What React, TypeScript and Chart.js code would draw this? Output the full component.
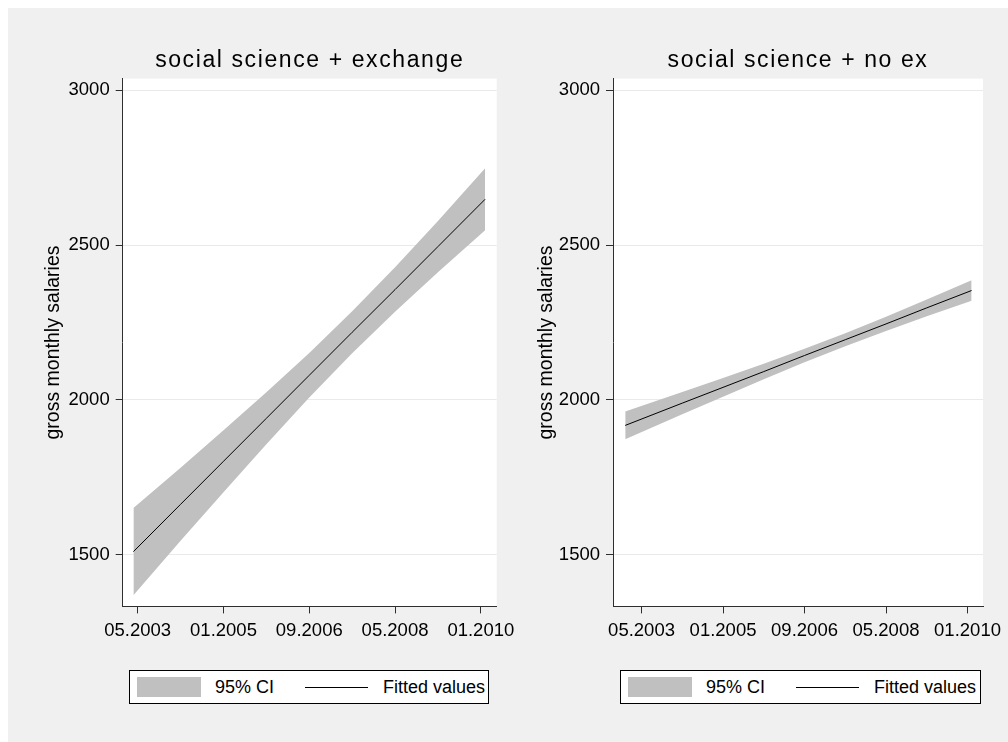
import { useEffect, useRef } from 'react';
import { Chart, registerables } from 'chart.js';

Chart.register(...registerables);

// x values are months counted from 05.2003
const tickValues = [0, 20, 40, 60, 80];
const tickLabels = ['05.2003', '01.2005', '09.2006', '05.2008', '01.2010'];
const yTicks = [1500, 2000, 2500, 3000];

// social science + exchange
const exMonths = [-1, 10, 20, 30, 40, 50, 60, 70, 81];
const exFit = [1509, 1662, 1801, 1940, 2079, 2218, 2356, 2495, 2648];
const exUpper = [1650, 1780, 1901, 2024, 2151, 2286, 2428, 2578, 2748];
const exLower = [1368, 1544, 1701, 1856, 2007, 2150, 2284, 2412, 2548];

// social science + no ex
const noMonths = [-4, 10, 20, 30, 40, 50, 60, 70, 81];
const noFit = [1917, 1989, 2040, 2091, 2143, 2194, 2245, 2297, 2353];
const noUpper = [1962, 2025, 2070, 2116, 2165, 2215, 2268, 2324, 2386];
const noLower = [1872, 1953, 2010, 2066, 2121, 2173, 2222, 2270, 2320];

const FONT = "'Liberation Sans', Arial, sans-serif";
const BAND = '#c0c0c0';
const AXIS = '#2e2e2e';
const GRID = '#eaeaea';
const BG = '#f0f0f0';

interface PanelCfg {
  title: string;
  months: number[];
  fit: number[];
  upper: number[];
  lower: number[];
  xMin: number;
  xMax: number;
  yWidth: number;
  padRight: number;
  yTitlePad: number;
}

function makePanel(canvas: HTMLCanvasElement, cfg: PanelCfg) {
  const pts = (ys: number[]) => cfg.months.map((m, i) => ({ x: m, y: ys[i] }));
  const plotBg = {
    id: 'plotBg',
    beforeDraw(chart: any) {
      const { ctx, chartArea: a } = chart;
      ctx.save();
      ctx.fillStyle = '#ffffff';
      ctx.fillRect(a.left, a.top, a.right - a.left, a.bottom - a.top);
      ctx.restore();
    },
  };
  const titleSpacing = {
    id: 'titleSpacing',
    afterInit(chart: any) {
      const tb = chart.titleBlock;
      if (!tb) return;
      const orig = tb.draw.bind(tb);
      tb.draw = (...args: any[]) => {
        const ctx = chart.ctx;
        ctx.save();
        ctx.letterSpacing = '1.6px';
        orig(...args);
        ctx.restore();
      };
    },
  };
  return new Chart(canvas, {
    type: 'line',
    data: {
      datasets: [
        {
          label: 'Fitted values',
          data: pts(cfg.fit),
          borderColor: '#000000',
          borderWidth: 1,
          pointRadius: 0,
          fill: false,
          tension: 0,
        },
        {
          label: '95% CI',
          data: pts(cfg.upper),
          borderColor: 'rgba(0,0,0,0)',
          borderWidth: 0,
          backgroundColor: BAND,
          pointRadius: 0,
          fill: '+1',
          tension: 0,
        },
        {
          label: 'lower',
          data: pts(cfg.lower),
          borderColor: 'rgba(0,0,0,0)',
          borderWidth: 0,
          pointRadius: 0,
          fill: false,
          tension: 0,
        },
      ],
    },
    options: {
      responsive: false,
      animation: false,
      events: [],
      layout: { padding: { left: 0, top: 0, bottom: 0, right: cfg.padRight } },
      plugins: {
        legend: { display: false },
        tooltip: { enabled: false },
        title: {
          display: true,
          text: cfg.title,
          fullSize: false,
          color: '#000000',
          font: { family: FONT, size: 23, weight: 'normal', lineHeight: 1.2 },
          padding: { top: 38.5, bottom: 4.5 },
        },
      },
      scales: {
        x: {
          type: 'linear',
          min: cfg.xMin,
          max: cfg.xMax,
          afterBuildTicks: (s: any) => {
            s.ticks = tickValues.map((v) => ({ value: v }));
          },
          afterFit: (s: any) => {
            s.height = 53.6;
          },
          grid: { drawOnChartArea: false, tickColor: AXIS, tickLength: 7 },
          border: { color: AXIS, width: 1 },
          ticks: {
            autoSkip: false,
            maxRotation: 0,
            padding: 6,
            color: '#000000',
            font: { family: FONT, size: 18.5 },
            callback: (v: any) => {
              const i = tickValues.indexOf(Number(v));
              return i >= 0 ? tickLabels[i] : '';
            },
          },
        },
        y: {
          type: 'linear',
          min: 1332,
          max: 3038,
          afterBuildTicks: (s: any) => {
            s.ticks = yTicks.map((v) => ({ value: v }));
          },
          afterFit: (s: any) => {
            s.width = cfg.yWidth;
          },
          grid: { color: GRID, tickColor: AXIS, tickLength: 7, lineWidth: 1 },
          border: { color: AXIS, width: 1 },
          ticks: {
            padding: 6,
            color: '#000000',
            font: { family: FONT, size: 18.5 },
            callback: (v: any) => String(v),
          },
          title: {
            display: true,
            text: 'gross monthly salaries',
            color: '#000000',
            font: { family: FONT, size: 19.5, weight: 'normal' },
            padding: { top: cfg.yTitlePad, bottom: 0 },
          },
        },
      },
    } as any,
    plugins: [plotBg, titleSpacing],
  });
}

function Legend({ left, width }: { left: number; width: number }) {
  const text: any = {
    position: 'absolute',
    top: 6,
    lineHeight: '20px',
    whiteSpace: 'nowrap',
  };
  return (
    <div
      style={{
        position: 'absolute',
        left,
        top: 662,
        width,
        height: 32,
        border: '1px solid #000',
        background: '#fff',
        fontFamily: FONT,
        fontSize: 18,
        color: '#000',
      }}
    >
      <div style={{ position: 'absolute', left: 7, top: 6, width: 64, height: 20, background: BAND }} />
      <span style={{ ...text, left: 85 }}>95% CI</span>
      <div style={{ position: 'absolute', left: 175, top: 16, width: 63, height: 1, background: '#000' }} />
      <span style={{ ...text, left: 253 }}>Fitted values</span>
    </div>
  );
}

export default function App() {
  const leftRef = useRef<HTMLCanvasElement>(null);
  const rightRef = useRef<HTMLCanvasElement>(null);

  useEffect(() => {
    const charts = [
      makePanel(leftRef.current!, {
        title: 'social science + exchange',
        months: exMonths,
        fit: exFit,
        upper: exUpper,
        lower: exLower,
        xMin: -3.5,
        xMax: 83.7,
        yWidth: 114.7,
        padRight: 33.3,
        yTitlePad: 34.4,
      }),
      makePanel(rightRef.current!, {
        title: 'social science + no ex',
        months: noMonths,
        fit: noFit,
        upper: noUpper,
        lower: noLower,
        xMin: -7,
        xMax: 83.8,
        yWidth: 113,
        padRight: 21.3,
        yTitlePad: 34.5,
      }),
    ];
    return () => charts.forEach((c) => c.destroy());
  }, []);

  return (
    <div
      style={{
        position: 'absolute',
        left: 8,
        top: 8,
        width: 1000,
        height: 734,
        background: BG,
        overflow: 'hidden',
      }}
    >
      <canvas
        ref={leftRef}
        width={522}
        height={652}
        style={{ position: 'absolute', left: 0, top: 0, width: 522, height: 652, display: 'block' }}
      />
      <canvas
        ref={rightRef}
        width={508}
        height={652}
        style={{ position: 'absolute', left: 492, top: 0, width: 508, height: 652, display: 'block' }}
      />
      <Legend left={121} width={358} />
      <Legend left={612} width={359} />
    </div>
  );
}
